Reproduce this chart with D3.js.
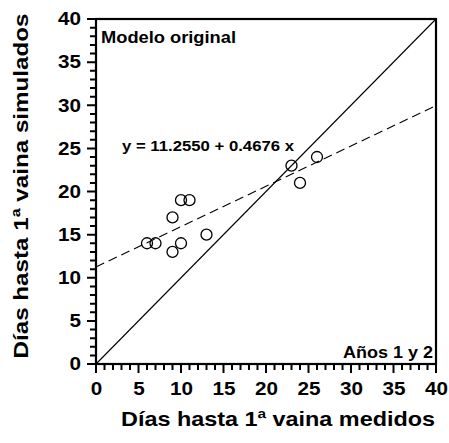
<!DOCTYPE html>
<html>
<head>
<meta charset="utf-8">
<script src="https://cdn.jsdelivr.net/npm/d3@7"></script>
<style>
  body { margin: 0; background: #fff; }
  text { font-family: "Liberation Sans", Arial, sans-serif; font-weight: bold; fill: #000; }
</style>
</head>
<body>
<div id="chart"></div>
<script>
// measured vs simulated days to first pod
const medidos = [6, 7, 9, 9, 10, 11, 10, 13, 23, 24, 26];
const simulados = [14, 14, 17, 13, 19, 19, 14, 15, 23, 21, 24];
const regIntercept = 11.2550;
const regSlope = 0.4676;
const tickValues = [0, 5, 10, 15, 20, 25, 30, 35, 40];
const minorTicks = d3.range(0, 41, 1);

// -----------------------------------------------
const W = 449, H = 443;
const margin = { top: 19, right: 13, bottom: 79, left: 96 };
const stretch = 1.15; // text in the original is wider than Arial

const svg = d3.select('#chart').append('svg')
  .attr('width', W).attr('height', H);

const x = d3.scaleLinear().domain([0, 40]).range([margin.left, W - margin.right]);
const y = d3.scaleLinear().domain([0, 40]).range([H - margin.bottom, margin.top]);

// approx width of a bold Arial string, widened
let textLen = (s, fs) => {
  const w = { '.': 278, ' ': 278 };
  return d3.sum(s.split(''), (c) => w[c] || 556) / 1000 * fs * stretch;
};

const fsTick = 18;

// tick marks drawn as one path per axis
const tickPath = (vals, len, vertical) =>
  vals.map((d) => {
    const l = d % 5 === 0 ? len + 3 : len;
    return vertical
      ? `M${x(0)},${y(d)}h${-l}`
      : `M${x(d)},${y(0)}v${l}`;
  }).join('');

svg.append('path')
  .attr('d', tickPath(minorTicks, 6, false))
  .attr('fill', 'none').attr('stroke', '#000').attr('stroke-width', 2);
svg.append('path')
  .attr('d', tickPath(minorTicks, 6, true))
  .attr('fill', 'none').attr('stroke', '#000').attr('stroke-width', 2);

// tick labels from the axes
let styleAxis = (g) => {
  g.select('.domain').remove();
  g.selectAll('.tick line').remove();
  g.selectAll('.tick text')
    .attr('fill', '#000')
    .attr('font-size', fsTick)
    .attr('font-family', '"Liberation Sans", Arial, sans-serif')
    .attr('font-weight', 'bold')
    .attr('textLength', (d) => textLen(String(d), fsTick))
    .attr('lengthAdjust', 'spacingAndGlyphs');
};
svg.append('g')
  .attr('transform', `translate(0,${y(0)})`)
  .call(d3.axisBottom(x).tickValues(tickValues).tickSize(9).tickPadding(6))
  .call(styleAxis)
  .call((g) => g.selectAll('.tick text').attr('dy', '0.9em'));
svg.append('g')
  .attr('transform', `translate(${x(0)},0)`)
  .call(d3.axisLeft(y).tickValues(tickValues).tickSize(9).tickPadding(6))
  .call(styleAxis);

// 1:1 line
svg.append('line')
  .attr('x1', x(0)).attr('y1', y(0)).attr('x2', x(40)).attr('y2', y(40))
  .attr('stroke', '#000').attr('stroke-width', 1.1);

// regression line
svg.append('line')
  .attr('x1', x(0)).attr('y1', y(regIntercept))
  .attr('x2', x(40)).attr('y2', y(regIntercept + regSlope * 40))
  .attr('stroke', '#000').attr('stroke-width', 1.1)
  .attr('stroke-dasharray', '9,5');

// points
svg.append('g').selectAll('circle')
  .data(medidos.map((m, i) => [m, simulados[i]]))
  .join('circle')
  .attr('cx', (d) => x(d[0])).attr('cy', (d) => y(d[1]))
  .attr('r', 5.5)
  .attr('fill', 'none').attr('stroke', '#000').attr('stroke-width', 1.3);

// frame
svg.append('rect')
  .attr('x', x(0)).attr('y', y(40))
  .attr('width', x(40) - x(0)).attr('height', y(0) - y(40))
  .attr('fill', 'none').attr('stroke', '#000').attr('stroke-width', 2.2);

// labels inside the plot
svg.append('text').attr('x', 101).attr('y', 43).attr('font-size', 16)
  .attr('textLength', 135).attr('lengthAdjust', 'spacingAndGlyphs')
  .text('Modelo original');
svg.append('text').attr('x', 122).attr('y', 151).attr('font-size', 15.5)
  .attr('textLength', 172).attr('lengthAdjust', 'spacingAndGlyphs')
  .text(`y = ${regIntercept.toFixed(4)} + ${regSlope.toFixed(4)} x`);
svg.append('text').attr('x', 433).attr('y', 358).attr('font-size', 16)
  .attr('text-anchor', 'end')
  .attr('textLength', 90).attr('lengthAdjust', 'spacingAndGlyphs')
  .text('Años 1 y 2');

// axis titles
svg.append('text').attr('x', 278).attr('y', 426).attr('font-size', 21)
  .attr('text-anchor', 'middle')
  .attr('textLength', 314).attr('lengthAdjust', 'spacingAndGlyphs')
  .text('Días hasta 1ª vaina medidos');
svg.append('text')
  .attr('transform', 'translate(28,186) rotate(-90)')
  .attr('font-size', 21).attr('text-anchor', 'middle')
  .attr('textLength', 345).attr('lengthAdjust', 'spacingAndGlyphs')
  .text('Días hasta 1ª vaina simulados');
</script>
</body>
</html>
